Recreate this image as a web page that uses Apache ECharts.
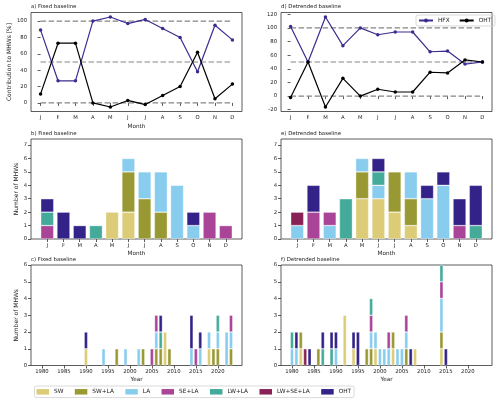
<!DOCTYPE html>
<html><head><meta charset="utf-8">
<script src="https://cdn.jsdelivr.net/npm/echarts@6/dist/echarts.min.js"></script>
<style>html,body{margin:0;padding:0;background:#fff}#c{width:500px;height:403px}</style>
</head><body><div id="c"></div>
<script>
const months = ['J','F','M','A','M','J','J','A','S','O','N','D'];
const categories = ['SW','SW+LA','LA','SE+LA','LW+LA','LW+SE+LA','OHT'];
const catColors = ['#DDCC77','#999933','#88CCEE','#AA4499','#44AA99','#882255','#332288'];

// a) Fixed baseline, contribution to MHWs [%]
const fixedHFX = [89,27,27,100,105,97,102,91,80,38,95,77];
const fixedOHT = [11,73,73,0,-5,3,-2,9,20,62,5,23];
// d) Detrended baseline
const detrHFX = [102,50,116,74,100,90,94,94,65,66,47,50];
const detrOHT = [-2,50,-16,26,0,10,6,6,35,34,53,50];
const refLevels = [0,50,100];

// b) Fixed baseline, monthly counts (order of categories)
const fixedMonSW     = [0,0,0,0,2,2,0,0,0,0,0,0];
const fixedMonSWLA   = [0,0,0,0,0,3,3,2,0,0,0,0];
const fixedMonLA     = [0,0,0,0,0,1,2,3,4,1,0,0];
const fixedMonSELA   = [1,0,0,0,0,0,0,0,0,0,2,1];
const fixedMonLWLA   = [1,0,0,1,0,0,0,0,0,0,0,0];
const fixedMonLWSELA = [0,0,0,0,0,0,0,0,0,0,0,0];
const fixedMonOHT    = [1,2,1,0,0,0,0,0,0,1,0,0];
// e) Detrended baseline, monthly counts
const detrMonSW     = [0,0,0,0,3,3,2,1,0,0,0,0];
const detrMonSWLA   = [0,0,0,0,2,0,3,2,0,0,0,0];
const detrMonLA     = [1,0,1,0,1,1,0,2,3,4,0,0];
const detrMonSELA   = [0,2,1,0,0,0,0,0,0,0,1,0];
const detrMonLWLA   = [0,0,0,3,0,1,0,0,0,0,0,1];
const detrMonLWSELA = [1,0,0,0,0,0,0,0,0,0,0,0];
const detrMonOHT    = [0,2,0,0,0,1,0,0,1,1,2,3];

// c) Fixed baseline, yearly counts [year, count]
const fixedYrSW     = [[1990,1],[2008,2],[2018,1]];
const fixedYrSWLA   = [[1997,1],[2003,1],[2006,1],[2007,1],[2009,1],[2019,1],[2020,1],[2023,1]];
const fixedYrLA     = [[1994,1],[1999,1],[2002,1],[2006,1],[2014,1],[2016,1],[2018,1],[2020,1],[2022,2],[2023,1]];
const fixedYrSELA   = [[2005,1],[2006,1],[2015,1],[2023,1]];
const fixedYrLWLA   = [[2007,1],[2020,1]];
const fixedYrLWSELA = [];
const fixedYrOHT    = [[1990,1],[2007,1],[2014,2],[2016,1]];
// f) Detrended baseline, yearly counts
const detrYrSW     = [[1982,1],[1992,3],[1994,1],[1999,1],[2003,1],[2008,1],[2014,1]];
const detrYrSWLA   = [[1982,1],[1986,1],[1997,1],[1998,1],[2003,1],[2006,1],[2014,1]];
const detrYrLA     = [[1980,1],[1981,1],[1990,1],[1998,1],[1999,1],[2000,1],[2001,1],[2002,1],[2004,1],[2005,1],[2006,1],[2014,2]];
const detrYrSELA   = [[1998,1],[2002,1],[2006,1],[2014,1]];
const detrYrLWLA   = [[1980,1],[1987,1],[1989,1],[1998,1],[2014,1]];
const detrYrLWSELA = [[1983,1]];
const detrYrOHT    = [[1981,1],[1984,1],[1987,1],[1989,1],[1990,1],[1994,1],[1995,2],[2007,1],[2015,1]];

const yearRange = [1978, 2025];
const yearTicks = [1980,1985,1990,1995,2000,2005,2010,2015,2020];
const pctTicksA = [0,20,40,60,80,100];
const pctTicksD = [-20,0,20,40,60,80,100,120];
const countTicksMon = [0,1,2,3,4,5,6,7];
const countTicksYr = [0,1,2,3,4,5,6];
const monthIdx = [0,1,2,3,4,5,6,7,8,9,10,11];

const FONT = 'DejaVu Sans';
const TICKF = 5.3, NAMEF = 6, TXT = '#222';

const yearCats = [];
for (let y = yearRange[0]; y <= yearRange[1]; y++) yearCats.push(String(y));
const monthCats = [''].concat(months, ['']);

const grids = [
  {left:31, top:12.5, width:211, height:99},
  {left:281, top:12.5, width:211, height:99},
  {left:31, top:139, width:211, height:100},
  {left:281, top:139, width:211, height:100},
  {left:31, top:265, width:211, height:100.5},
  {left:281, top:265, width:211, height:100.5}
].map(g => Object.assign({show:true, borderColor:'#333', borderWidth:0.8, backgroundColor:'transparent', containLabel:false}, g));

const tickLine = {color:'#333', width:0.8};
const labelStyle = {fontSize:TICKF, color:TXT, margin:4, fontFamily:FONT};
const xNameStyle = {fontSize:5.7, color:TXT, fontFamily:FONT};

function valAxisCommon(values, fmt) {
  return {
    axisLine:{show:false}, splitLine:{show:false},
    axisTick:{show:true, length:3, lineStyle:tickLine, customValues:values},
    axisLabel:Object.assign({customValues:values, formatter:fmt}, labelStyle)
  };
}
function xValAx(gi, min, max, values, fmt, name) {
  return Object.assign({type:'value', gridIndex:gi, min, max,
    name:name||'', nameLocation:'middle', nameGap:12.5, nameTextStyle:xNameStyle}, valAxisCommon(values, fmt));
}
function xMonCat(gi, name) {
  const show = (i) => i > 0 && i < monthCats.length - 1;
  return {type:'category', gridIndex:gi, data:monthCats, boundaryGap:false,
    axisLine:{show:false}, splitLine:{show:false},
    axisTick:{show:true, length:3, lineStyle:tickLine, interval:show},
    axisLabel:Object.assign({interval:0}, labelStyle),
    name:name||'', nameLocation:'middle', nameGap:11.5, nameTextStyle:xNameStyle};
}
function xYearCat(gi, name) {
  const show = (i, v) => yearTicks.indexOf(+v) >= 0;
  return {type:'category', gridIndex:gi, data:yearCats, boundaryGap:true,
    axisLine:{show:false}, splitLine:{show:false},
    axisTick:{show:true, length:3, lineStyle:tickLine, interval:show, alignWithLabel:true},
    axisLabel:Object.assign({interval:show}, labelStyle),
    name:name||'', nameLocation:'middle', nameGap:11.5, nameTextStyle:xNameStyle};
}
function yAx(gi, min, max, values, name, gap) {
  return Object.assign({type:'value', gridIndex:gi, min, max,
    name:name||'', nameLocation:'middle', nameGap:gap||0,
    nameTextStyle:{fontSize:NAMEF, color:TXT, fontFamily:FONT}}, valAxisCommon(values, v => String(v)));
}
const monFmt = v => months[v];

const xAxis = [
  xValAx(0, -0.55, 11.55, monthIdx, monFmt, 'Month'),
  xValAx(1, -0.55, 11.55, monthIdx, monFmt, ''),
  xMonCat(2, 'Month'),
  xMonCat(3, 'Month'),
  xYearCat(4, 'Year'),
  xYearCat(5, 'Year')
];
const yAxis = [
  yAx(0, -10.5, 110.5, pctTicksA, 'Contribution to MHWs [%]', 19),
  yAx(1, -22.6, 122.6, pctTicksD, '', 0),
  yAx(2, 0, 7.45, countTicksMon, 'Number of MHWs', 12),
  yAx(3, 0, 7.45, countTicksMon, '', 0),
  yAx(4, 0, 6, countTicksYr, 'Number of MHWs', 12),
  yAx(5, 0, 6, countTicksYr, '', 0)
];

const series = [];
// reference dashed lines
[0,1].forEach(gi => refLevels.forEach(lv => series.push({
  type:'line', xAxisIndex:gi, yAxisIndex:gi, data:[[0,lv],[11,lv]], symbol:'none', silent:true,
  lineStyle:{color:'#858585', width:1.2, type:[5.5,2.5]}, z:1
})));
function lineSeries(gi, name, vals, color) {
  series.push({type:'line', name, xAxisIndex:gi, yAxisIndex:gi, data:vals.map((v,i)=>[i,v]),
    symbol:'circle', symbolSize:3.5, lineStyle:{color, width:1.2}, itemStyle:{color}, z:3});
}
lineSeries(0, 'HFX', fixedHFX, '#3a2d8f');
lineSeries(0, 'OHT ', fixedOHT, '#000000');
lineSeries(1, 'HFX', detrHFX, '#3a2d8f');
lineSeries(1, 'OHT ', detrOHT, '#000000');

const barStyle = c => ({color:c, borderColor:'rgba(255,255,255,0.55)', borderWidth:0.6});
const monSets = [
  [fixedMonSW, fixedMonSWLA, fixedMonLA, fixedMonSELA, fixedMonLWLA, fixedMonLWSELA, fixedMonOHT],
  [detrMonSW, detrMonSWLA, detrMonLA, detrMonSELA, detrMonLWLA, detrMonLWSELA, detrMonOHT]
];
monSets.forEach((set, k) => {
  const gi = 2 + k;
  set.forEach((arr, ci) => series.push({
    type:'bar', name:categories[ci], xAxisIndex:gi, yAxisIndex:gi, stack:'m'+gi, barWidth:13,
    data: ['-'].concat(arr.map(v => v ? v : '-'), ['-']), itemStyle:barStyle(catColors[ci]), z:2
  }));
});
const yrSets = [
  [fixedYrSW, fixedYrSWLA, fixedYrLA, fixedYrSELA, fixedYrLWLA, fixedYrLWSELA, fixedYrOHT],
  [detrYrSW, detrYrSWLA, detrYrLA, detrYrSELA, detrYrLWLA, detrYrLWSELA, detrYrOHT]
];
yrSets.forEach((set, k) => {
  const gi = 4 + k;
  set.forEach((arr, ci) => {
    const map = {};
    arr.forEach(p => { map[p[0]] = p[1]; });
    series.push({
      type:'bar', name:categories[ci], xAxisIndex:gi, yAxisIndex:gi, stack:'y'+gi, barWidth:3.5,
      data: yearCats.map(y => map[y] ? map[y] : '-'), itemStyle:barStyle(catColors[ci]), z:2
    });
  });
});

const titles = [
  ['a) Fixed baseline', 31, 3.6],
  ['d) Detrended baseline', 281, 3.6],
  ['b) Fixed baseline', 31, 131.5],
  ['e) Detrended baseline', 281, 131.5],
  ['f) Detrended baseline', 281, 257.5],
  ['c) Fixed baseline', 31, 257.5]
].map(t => ({text:t[0], left:t[1], top:t[2], padding:0,
  textStyle:{fontSize:5.4, fontWeight:'normal', color:TXT, fontFamily:FONT}}));

const option = {
  animation:false,
  textStyle:{fontFamily:FONT},
  title: titles,
  grid: grids,
  xAxis, yAxis,
  legend: [
    {data: categories.map((n,i)=>({name:n, icon:'rect', itemStyle:{color:catColors[i], borderWidth:0}})),
     left:34.5, top:386, orient:'horizontal', itemWidth:12.5, itemHeight:5.5, itemGap:11.4,
     padding:[2.8,3,2.8,2], borderColor:'#cfcfcf', borderWidth:0.8, borderRadius:2,
     textStyle:{fontSize:5.8, color:TXT, fontFamily:FONT}, selectedMode:false},
    {data:['HFX','OHT '], left:416, top:15, itemWidth:14, itemHeight:5, itemGap:9,
     padding:[2.5,2,2.5,2], borderColor:'#cfcfcf', borderWidth:0.8, borderRadius:2,
     textStyle:{fontSize:5.8, color:TXT, fontFamily:FONT}, selectedMode:false}
  ],
  series
};
const chart = echarts.init(document.getElementById('c'), null, {renderer:'canvas'});
chart.setOption(option);
</script></body></html>
